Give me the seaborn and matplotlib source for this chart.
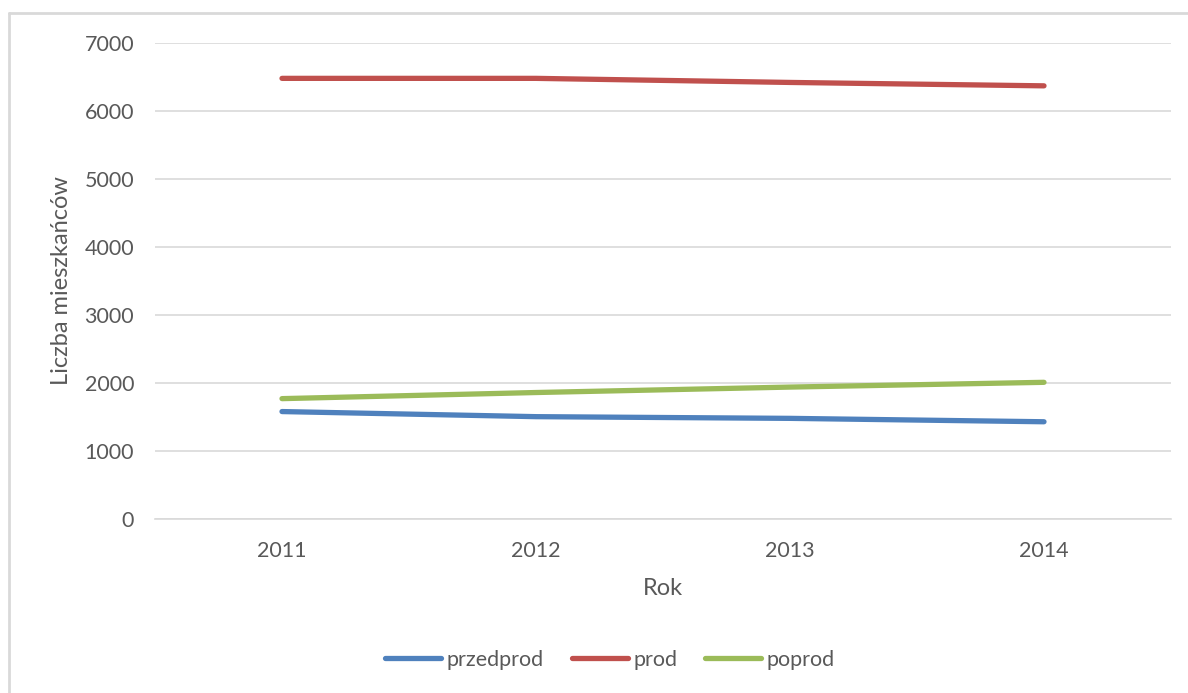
import matplotlib
matplotlib.use("Agg")
import matplotlib.pyplot as plt
from matplotlib.lines import Line2D
import pandas as pd
import seaborn as sns

years = ["2011", "2012", "2013", "2014"]
series_names = ["przedprod", "prod", "poprod"]
przedprod = [1580, 1505, 1480, 1430]
prod = [6480, 6480, 6420, 6370]
poprod = [1770, 1860, 1940, 2010]
y_ticks = [0, 1000, 2000, 3000, 4000, 5000, 6000, 7000]

palette = {"przedprod": "#4F81BD", "prod": "#C0504D", "poprod": "#9BBB59"}

df = pd.DataFrame({
    "Rok": years * 3,
    "Liczba": przedprod + prod + poprod,
    "Seria": [n for n in series_names for _ in years],
})

sns.set_theme(style="white")
plt.rcParams["font.family"] = ["Lato", "DejaVu Sans"]

W, H = 1188, 693
fig = plt.figure(figsize=(W / 100, H / 100), dpi=100)
ax = fig.add_axes([155 / W, 1 - 519 / H, (1171 - 155) / W, (519 - 43) / H])

sns.lineplot(data=df, x="Rok", y="Liczba", hue="Seria", hue_order=series_names,
             palette=palette, linewidth=3.8, sort=False, ax=ax, legend=False,
             solid_capstyle="round")

ax.set_xlim(-0.5, len(years) - 0.5)
ax.set_ylim(0, 7000)
ax.set_yticks(y_ticks)
ax.set_yticklabels([str(v) for v in y_ticks])
ax.yaxis.grid(True, color="#d9d9d9", linewidth=1.2)
ax.set_axisbelow(True)
for side in ["top", "right", "left"]:
    ax.spines[side].set_visible(False)
ax.spines["bottom"].set_color("#d9d9d9")
ax.spines["bottom"].set_linewidth(1.2)
ax.tick_params(axis="both", length=0, labelsize=15.5, colors="#595959")
ax.tick_params(axis="y", pad=15)
ax.tick_params(axis="x", pad=16)
ax.set_xlabel("Rok", fontsize=17, color="#595959", labelpad=12)
ax.set_ylabel("Liczba mieszkańców", fontsize=17, color="#595959", labelpad=9)

handles = [Line2D([0], [0], color=palette[n], linewidth=3.8, solid_capstyle="round")
           for n in series_names]
fig.legend(handles, series_names, loc="center", bbox_to_anchor=(610 / W, 1 - 660 / H),
           ncol=3, frameon=False, fontsize=15.5, handlelength=2.6, handletextpad=0.25,
           columnspacing=1.3, labelcolor="#595959")

# light chart-area frame on the left and top edges
frame_kw = dict(color="#d9d9d9", linewidth=2, transform=None)
fig.add_artist(Line2D([9, 9], [0, H - 13], **frame_kw))
fig.add_artist(Line2D([9, W], [H - 13, H - 13], **frame_kw))

fig.savefig("out.png", dpi=100, facecolor="white")
